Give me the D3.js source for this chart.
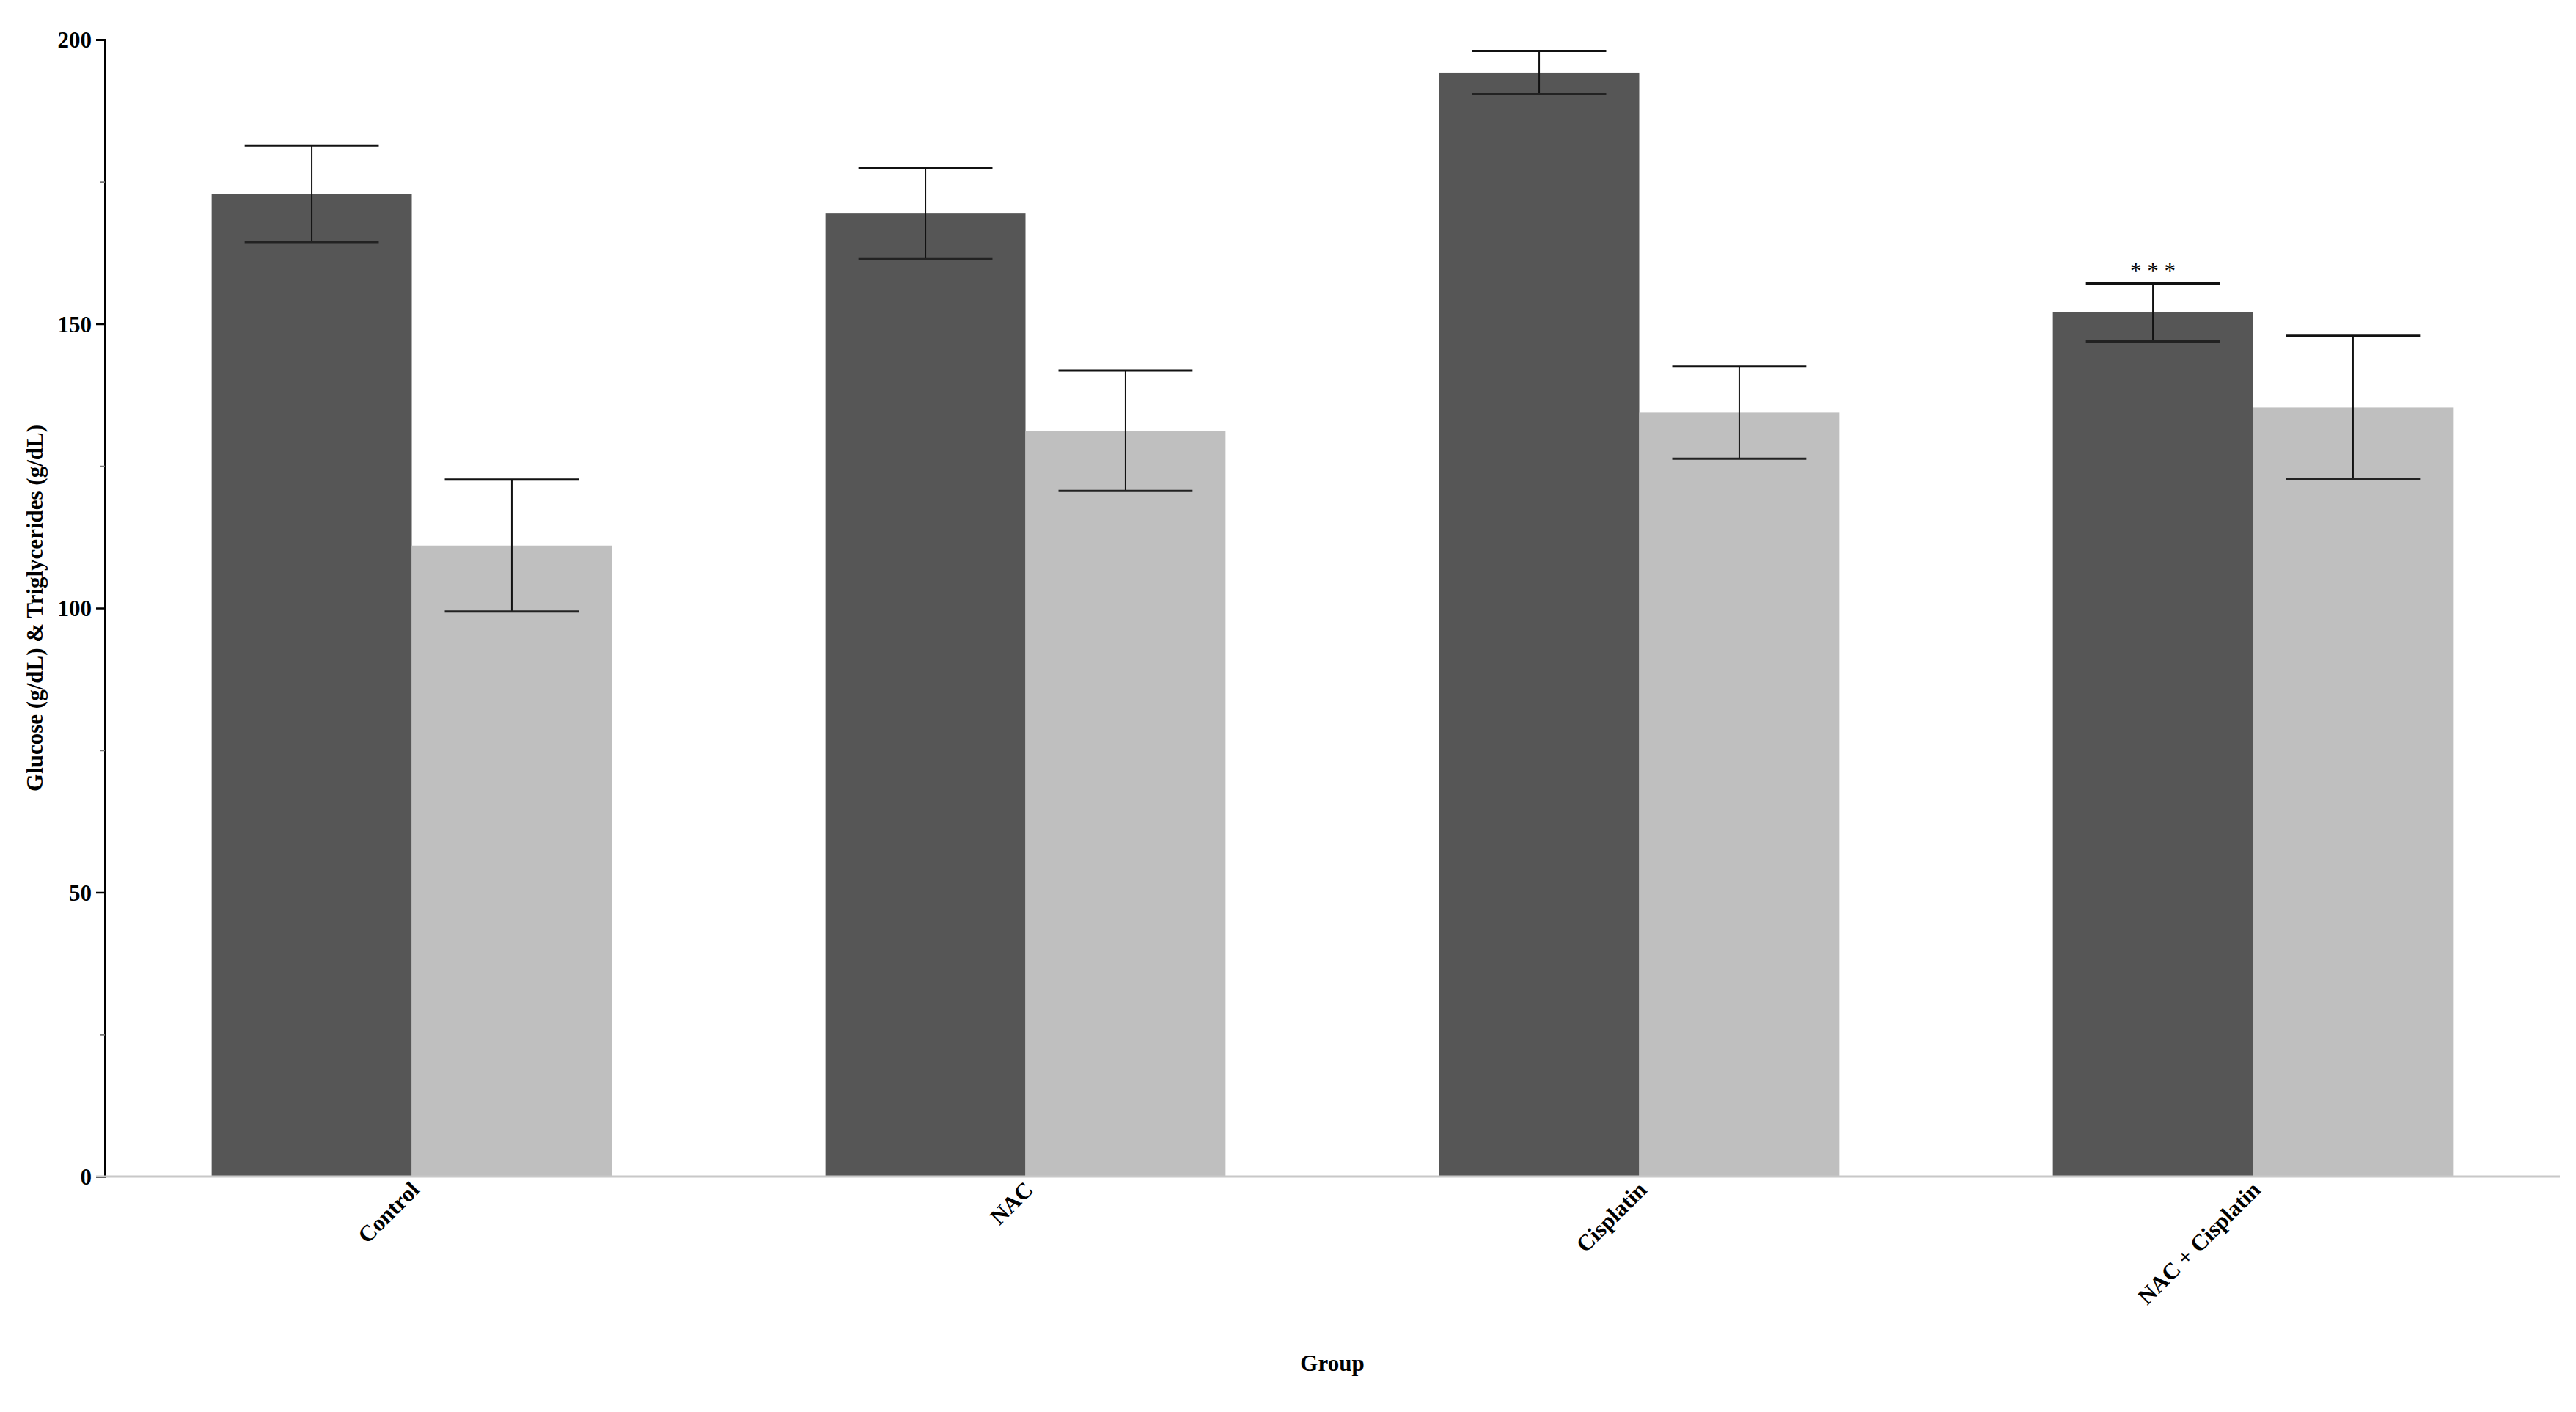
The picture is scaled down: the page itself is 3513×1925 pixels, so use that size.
<!DOCTYPE html>
<html>
<head>
<meta charset="utf-8">
<script src="https://cdn.jsdelivr.net/npm/d3@7"></script>
<style>
    body { margin: 0; background: #fff; }
    text { font-family: "Liberation Serif", "Times New Roman", serif; font-weight: bold; fill: #000; }
</style>
</head>
<body>
<svg id="chart" width="3513" height="1925"></svg>
<script>
// values
let groups = ['Control', 'NAC', 'Cisplatin', 'NAC + Cisplatin'];
let series_names = ['Glucose', 'Triglycerides'];
let glucose_mean = [172.9, 169.4, 194.2, 152.0];
let glucose_err = [8.5, 8.0, 3.8, 5.1];
let trig_mean = [111.0, 131.2, 134.4, 135.3];
let trig_err = [11.6, 10.6, 8.1, 12.6];
let y_major_ticks = [0, 50, 100, 150, 200];
let y_minor_ticks = [25, 75, 125, 175];
let significance = [{group: 'NAC + Cisplatin', series: 'Glucose', label: '* * *'}];

let series_colors = {'Glucose': '#565656', 'Triglycerides': '#bfbfbf'};

let svg = d3.select('#chart');

let plot_left = 143, plot_right = 3491, plot_top = 54, plot_bottom = 1604;

let x = d3.scaleBand()
    .domain(groups)
    .range([plot_left, plot_right])
    .paddingInner(0.348)
    .paddingOuter(0.174);

let x_inner = d3.scaleBand()
    .domain(series_names)
    .range([0, x.bandwidth()]);

let y = d3.scaleLinear()
    .domain([0, 200])
    .range([plot_bottom, plot_top]);

let rows = [];
groups.forEach(function (g, i) {
    rows.push({group: g, series: 'Glucose', mean: glucose_mean[i], err: glucose_err[i]});
    rows.push({group: g, series: 'Triglycerides', mean: trig_mean[i], err: trig_err[i]});
});

// bars
svg.append('g').selectAll('rect')
    .data(rows)
    .enter().append('rect')
    .attr('x', d => x(d.group) + x_inner(d.series))
    .attr('y', d => y(d.mean))
    .attr('width', x_inner.bandwidth())
    .attr('height', d => y(0) - y(d.mean))
    .style('fill', d => series_colors[d.series]);

// error bars
let cap_half = x_inner.bandwidth() * 0.335;
let err_g = svg.append('g').selectAll('g')
    .data(rows)
    .enter().append('g')
    .attr('transform', d => 'translate(' + (x(d.group) + x_inner(d.series) + x_inner.bandwidth() / 2) + ',0)');

err_g.append('line')
    .attr('x1', 0).attr('x2', 0)
    .attr('y1', d => y(d.mean + d.err))
    .attr('y2', d => y(d.mean - d.err))
    .attr('stroke', '#111')
    .attr('stroke-width', 2);

err_g.append('line')
    .attr('x1', -cap_half).attr('x2', cap_half)
    .attr('y1', d => y(d.mean + d.err))
    .attr('y2', d => y(d.mean + d.err))
    .attr('stroke', '#111')
    .attr('stroke-width', 3);

err_g.append('line')
    .attr('x1', -cap_half).attr('x2', cap_half)
    .attr('y1', d => y(d.mean - d.err))
    .attr('y2', d => y(d.mean - d.err))
    .attr('stroke', '#222')
    .attr('stroke-width', 3);

// significance stars
svg.append('g').selectAll('text')
    .data(significance)
    .enter().append('text')
    .attr('x', d => x(d.group) + x_inner(d.series) + x_inner.bandwidth() / 2)
    .attr('y', function (d) {
        let r = rows.find(row => row.group === d.group && row.series === d.series);
        return y(r.mean + r.err) - 6;
    })
    .attr('text-anchor', 'middle')
    .style('font-size', '31px')
    .style('font-weight', 'normal')
    .text(d => d.label);

// y axis, major and minor ticks
let y_axis = svg.append('g')
    .attr('transform', 'translate(' + plot_left + ',0)')
    .call(d3.axisLeft(y).tickValues(y_major_ticks).tickSize(12).tickPadding(6));

y_axis.select('.domain').attr('stroke', '#000').attr('stroke-width', 3);
y_axis.selectAll('.tick line').attr('stroke', '#000').attr('stroke-width', 2.5);
y_axis.selectAll('.tick text')
    .style('font-size', '31px')
    .style('font-family', '"Liberation Serif", serif')
    .style('font-weight', 'bold')
    .attr('dy', '0.35em');

let y_minor = svg.append('g')
    .attr('transform', 'translate(' + plot_left + ',0)')
    .call(d3.axisLeft(y).tickValues(y_minor_ticks).tickSize(7).tickFormat(''));
y_minor.select('.domain').remove();
y_minor.selectAll('.tick line').attr('stroke', '#777').attr('stroke-width', 2);

// x axis
let x_axis = svg.append('g')
    .attr('transform', 'translate(0,' + plot_bottom + ')')
    .call(d3.axisBottom(x).tickSize(0).tickSizeOuter(0));

x_axis.select('.domain')
    .attr('d', 'M' + (plot_left - 12) + ',0H' + plot_right)
    .attr('stroke', '#c8c8c8')
    .attr('stroke-width', 3);

x_axis.selectAll('.tick text')
    .style('font-size', '31px')
    .style('font-family', '"Liberation Serif", serif')
    .style('font-weight', 'bold')
    .attr('text-anchor', 'end')
    .attr('dy', 0)
    .attr('y', 0)
    .attr('transform', 'translate(12,20) rotate(-45)');

// axis titles
svg.append('text')
    .attr('transform', 'translate(' + 58 + ',' + ((plot_top + plot_bottom) / 2) + ') rotate(-90)')
    .attr('text-anchor', 'middle')
    .style('font-size', '31px')
    .text('Glucose (g/dL) & Triglycerides (g/dL)');

svg.append('text')
    .attr('x', (plot_left + plot_right) / 2)
    .attr('y', 1869)
    .attr('text-anchor', 'middle')
    .style('font-size', '31px')
    .text('Group');
</script>
</body>
</html>
